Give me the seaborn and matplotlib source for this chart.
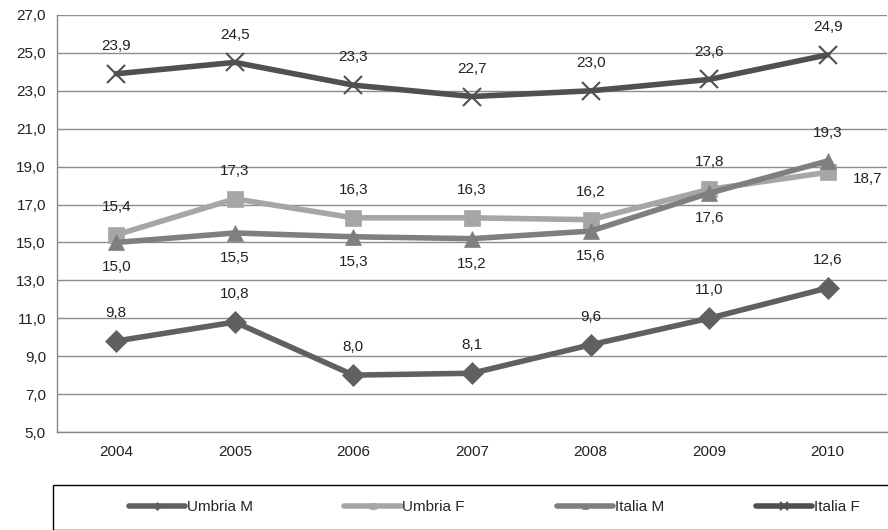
import matplotlib
matplotlib.use('AGG')
import matplotlib.pyplot as plt
import seaborn as sns
from matplotlib.patches import Rectangle
from pandas import DataFrame

anni = ['2004', '2005', '2006', '2007', '2008', '2009', '2010']
serie = ['Umbria M', 'Umbria F', 'Italia M', 'Italia F']
umbria_m = [9.8, 10.8, 8.0, 8.1, 9.6, 11.0, 12.6]
umbria_f = [15.4, 17.3, 16.3, 16.3, 16.2, 17.8, 18.7]
italia_m = [15.0, 15.5, 15.3, 15.2, 15.6, 17.6, 19.3]
italia_f = [23.9, 24.5, 23.3, 22.7, 23.0, 23.6, 24.9]
valori = {'Umbria M': umbria_m, 'Umbria F': umbria_f,
          'Italia M': italia_m, 'Italia F': italia_f}

colori = {'Umbria M': '#606060', 'Umbria F': '#a6a6a6',
          'Italia M': '#7f7f7f', 'Italia F': '#505050'}
marcatori = {'Umbria M': 'D', 'Umbria F': 's', 'Italia M': '^', 'Italia F': 'x'}
msize = {'Umbria M': 11, 'Umbria F': 12, 'Italia M': 12, 'Italia F': 13}

righe = []
for s in serie:
    for i, a in enumerate(anni):
        righe.append({'pos': i, 'anno': a, 'serie': s, 'valore': valori[s][i]})
datos = DataFrame(righe)

sns.set_theme(style='white')
plt.rcParams['font.family'] = ['Liberation Sans', 'DejaVu Sans']

fig = plt.figure(figsize=(8.88, 5.30), dpi=100)
ax = fig.add_axes([57 / 888, 98 / 530, 830 / 888, 417 / 530])

for s in serie:
    sub = datos[datos['serie'] == s]
    sns.lineplot(data=sub, x='pos', y='valore', ax=ax, color=colori[s],
                 linewidth=4.0, marker=marcatori[s], markersize=msize[s],
                 markeredgecolor=colori[s], markeredgewidth=1.5 if s == 'Italia F' else 0.5,
                 label=s, legend=False)

# posizione etichette: sopra / sotto / destra
def posto(s, i):
    if s == 'Italia M':
        return 'su' if i == 6 else 'giu'
    if s == 'Umbria F' and i == 6:
        return 'dx'
    return 'su'

for s in serie:
    for i, v in enumerate(valori[s]):
        testo = f'{v:.1f}'.replace('.', ',')
        p = posto(s, i)
        if p == 'su':
            off = (0, 20)
        elif p == 'giu':
            off = (0, -18)
        else:
            off = (29, -5)
        ax.annotate(testo, (i, v), xytext=off, textcoords='offset points',
                    ha='center', va='center', fontsize=11, color='#222222')

ax.set_xlim(-0.5, 6.5)
ax.set_ylim(5, 27)
ax.set_yticks([5 + 2 * k for k in range(12)])
ax.set_yticklabels([f'{5 + 2 * k:.1f}'.replace('.', ',') for k in range(12)])
ax.set_xticks(range(len(anni)))
ax.set_xticklabels(anni)
ax.set_xticks([k - 0.5 for k in range(len(anni) + 1)], minor=True)
ax.tick_params(axis='x', which='major', length=0, pad=9, labelsize=11, colors='#222222')
ax.tick_params(axis='x', which='minor', length=5, width=1, color='#888888', direction='out')
ax.tick_params(axis='y', length=5, width=1, color='#888888', direction='out',
               labelsize=11, labelcolor='#222222', pad=3)
ax.yaxis.grid(True, color='#8c8c8c', linewidth=1)
ax.set_axisbelow(True)
ax.set_xlabel('')
ax.set_ylabel('')
for lato in ['top', 'right']:
    ax.spines[lato].set_visible(False)
for lato in ['left', 'bottom']:
    ax.spines[lato].set_color('#888888')
    ax.spines[lato].set_linewidth(1)

fig.patches.append(Rectangle((53 / 888, 0), 836 / 888, 45 / 530, transform=fig.transFigure,
                             fill=False, edgecolor='black', linewidth=1))
maniglie, etichette = ax.get_legend_handles_labels()
fig.legend(maniglie, etichette, loc='center', bbox_to_anchor=(494 / 888, 23 / 530),
           ncol=4, frameon=False, fontsize=11, handlelength=3.7, handletextpad=0.1,
           columnspacing=6.0, markerscale=0.4)

fig.savefig('out.png', dpi=100)
plt.close(fig)
